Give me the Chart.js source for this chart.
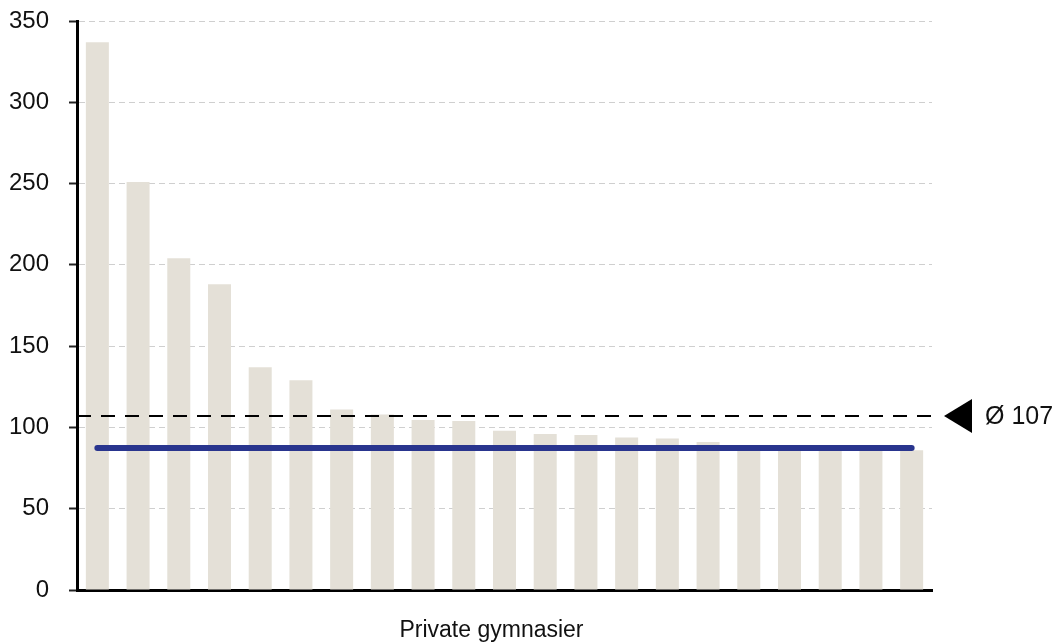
<!DOCTYPE html>
<html>
<head>
<meta charset="utf-8">
<script src="https://cdn.jsdelivr.net/npm/chart.js@4"></script>
<style>
  body { margin: 0; background: #fff; }
</style>
</head>
<body>
<canvas id="schoolChart" width="1058" height="643"></canvas>
<script>
const schools = ['1', '2', '3', '4', '5', '6', '7', '8', '9', '10', '11', '12', '13', '14', '15', '16', '17', '18', '19', '20', '21'];
const values = [337, 251, 204, 188, 137, 129, 111, 108, 104.5, 104, 98, 96, 95.3, 93.8, 93.2, 91, 89, 88, 87, 86.5, 86];
const referenceValue = 87.3;
const average = 107;
const yTicks = [0, 50, 100, 150, 200, 250, 300, 350];
const axisTitle = 'Private gymnasier';

const FONT = "'Liberation Sans', Arial, sans-serif";

const averageLine = {
  id: 'averageLine',
  afterDatasetsDraw(chart) {
    const { ctx, chartArea } = chart;
    const y = chart.scales.y.getPixelForValue(average);
    ctx.save();
    ctx.strokeStyle = '#000';
    ctx.lineWidth = 2;
    ctx.setLineDash([14, 10]);
    ctx.beginPath();
    ctx.moveTo(chartArea.left, y);
    ctx.lineTo(chartArea.right, y);
    ctx.stroke();
    ctx.setLineDash([]);
    // marker
    const tipX = chartArea.right + 12;
    ctx.fillStyle = '#000';
    ctx.beginPath();
    ctx.moveTo(tipX, y);
    ctx.lineTo(tipX + 28, y - 17);
    ctx.lineTo(tipX + 28, y + 17);
    ctx.closePath();
    ctx.fill();
    ctx.font = '25px ' + FONT;
    ctx.textAlign = 'left';
    ctx.textBaseline = 'middle';
    ctx.fillStyle = '#111';
    ctx.fillText('Ø ' + average, tipX + 41, y + 1);
    // axis title, a little left of the plot centre
    ctx.font = '23px ' + FONT;
    ctx.textAlign = 'center';
    ctx.fillText(axisTitle, (chartArea.left + chartArea.right) / 2 - 13, chart.height - 12);
    ctx.restore();
  },
};

const ctx = document.getElementById('schoolChart').getContext('2d');
const schoolChart = new Chart(ctx, {
  type: 'bar',
  data: {
    labels: schools,
    datasets: [
      {
        type: 'line',
        data: schools.map(() => referenceValue),
        borderColor: '#29358e',
        borderWidth: 6,
        borderCapStyle: 'round',
        pointRadius: 0,
        order: 0,
      },
      {
        data: values,
        backgroundColor: '#e4e0d7',
        borderWidth: 0,
        categoryPercentage: 1,
        barPercentage: 0.565,
        order: 1,
      },
    ],
  },
  options: {
    responsive: false,
    animation: false,
    layout: {
      padding: { top: 21, right: 126, bottom: 0, left: 0 },
    },
    scales: {
      x: {
        grid: { display: false },
        border: { display: true, color: '#000', width: 3 },
        ticks: { display: false },
        afterFit(scale) {
          scale.height = 53;
        },
      },
      y: {
        min: 0,
        max: 350,
        afterBuildTicks(scale) {
          scale.ticks = yTicks.map((v) => ({ value: v }));
        },
        grid: {
          color: '#cfcfcf',
          lineWidth: 1,
          tickLength: 8,
          tickColor: '#222',
          tickWidth: 2,
          tickBorderDash: [],
        },
        border: { display: true, color: '#000', width: 3, dash: [6, 4] },
        ticks: {
          padding: 20,
          color: '#111',
          font: { family: FONT, size: 24 },
        },
        afterFit(scale) {
          scale.width = 77;
          scale.paddingTop = 0;
          scale.paddingBottom = 0;
        },
      },
    },
    plugins: {
      legend: { display: false },
      tooltip: { enabled: false },
    },
  },
  plugins: [averageLine],
});
</script>
</body>
</html>
